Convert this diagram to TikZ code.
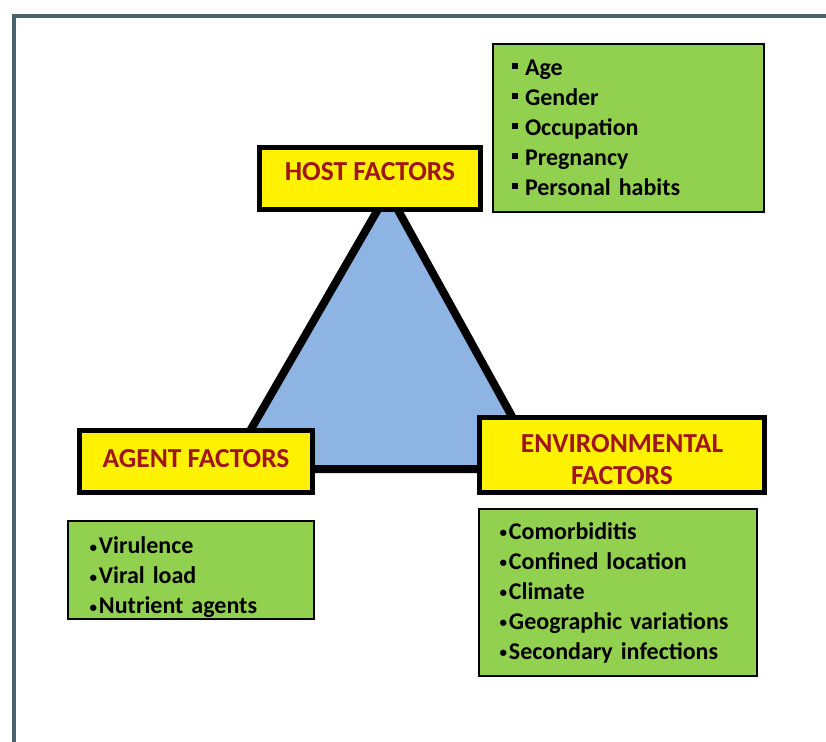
\documentclass[tikz,border=0pt]{standalone}
\usepackage{fontspec}
\setmainfont{Carlito}

\definecolor{framegray}{RGB}{74,100,110}
\definecolor{listgreen}{RGB}{146,208,80}
\definecolor{triblue}{RGB}{141,180,226}
\definecolor{labelred}{RGB}{160,20,30}

\newcommand{\sqbullet}{\rule[7pt]{6pt}{6pt}\hspace{7pt}}
\newcommand{\rdbullet}{{\fontsize{15}{15}\selectfont\raisebox{1.5pt}{\textbullet}}\hspace{2pt}}

\begin{document}
\begin{tikzpicture}[x=1pt,y=-1pt,
    factor/.style={draw=black,line width=5pt,fill=yellow,text=labelred,
      font=\fontsize{27.5}{32}\selectfont\bfseries,align=center,inner sep=0pt},
    items/.style={draw=black,line width=1.8pt,fill=listgreen,
      font=\fontsize{24}{30}\selectfont\bfseries,align=left,inner ysep=0pt}]
      \useasboundingbox (0,0) rectangle (826,741);
      \clip (0,0) rectangle (826,741);

      %%%%%%%%%%%%%%%%%%%%%%%%%%%%%%%%%%%%%%%%%%%%%%%%%%%%%%%%%%%%%%%%%%%%%%%%%%%
      %%%%  Frame
      \fill[white] (0,0) rectangle (826,741);
      \draw[framegray,line width=4pt] (14,760) -- (14,16.5) -- (850,16.5);

      %%%%%%%%%%%%%%%%%%%%%%%%%%%%%%%%%%%%%%%%%%%%%%%%%%%%%%%%%%%%%%%%%%%%%%%%%%%
      %%%%  Triangle
      \coordinate (apex) at (388,192);
      \coordinate (left) at (228,469);
      \coordinate (right) at (541,469);
      \filldraw[fill=triblue,line width=8pt] (apex) -- (left) -- (right) -- cycle;

      %%%%%%%%%%%%%%%%%%%%%%%%%%%%%%%%%%%%%%%%%%%%%%%%%%%%%%%%%%%%%%%%%%%%%%%%%%%
      %%%%  Factors
      \node[factor,minimum width=221pt,minimum height=62pt,text depth=14pt] (host)
        at (370,178.5) {HOST FACTORS};
      \node[factor,minimum width=233pt,minimum height=62pt,text depth=6pt] (agent)
        at (196,461.5) {AGENT FACTORS};
      \node[factor,minimum width=285pt,minimum height=75pt,text height=59pt] (env)
        at (622,455) {ENVIRONMENTAL\\FACTORS};

      %%%%%%%%%%%%%%%%%%%%%%%%%%%%%%%%%%%%%%%%%%%%%%%%%%%%%%%%%%%%%%%%%%%%%%%%%%%
      %%%%  Lists
      \node[items,minimum height=168pt,text width=233pt,inner xsep=19pt] (hostlist)
        at (628.5,128)
        {\sqbullet Age\\ \sqbullet Gender\\ \sqbullet Occupation\\
         \sqbullet Pregnancy\\ \sqbullet Personal habits};
      \node[items,minimum height=98pt,text width=203pt,inner xsep=21.5pt,
        text height=32pt] (agentlist) at (191,570)
        {\rdbullet Virulence\\ \rdbullet Viral load\\ \rdbullet Nutrient agents};
      \node[items,minimum height=167pt,text width=237pt,inner xsep=20.5pt] (envlist)
        at (618,592.5)
        {\rdbullet Comorbiditis\\ \rdbullet Confined location\\ \rdbullet Climate\\
         \rdbullet Geographic variations\\ \rdbullet Secondary infections};
    \end{tikzpicture}
\end{document}
